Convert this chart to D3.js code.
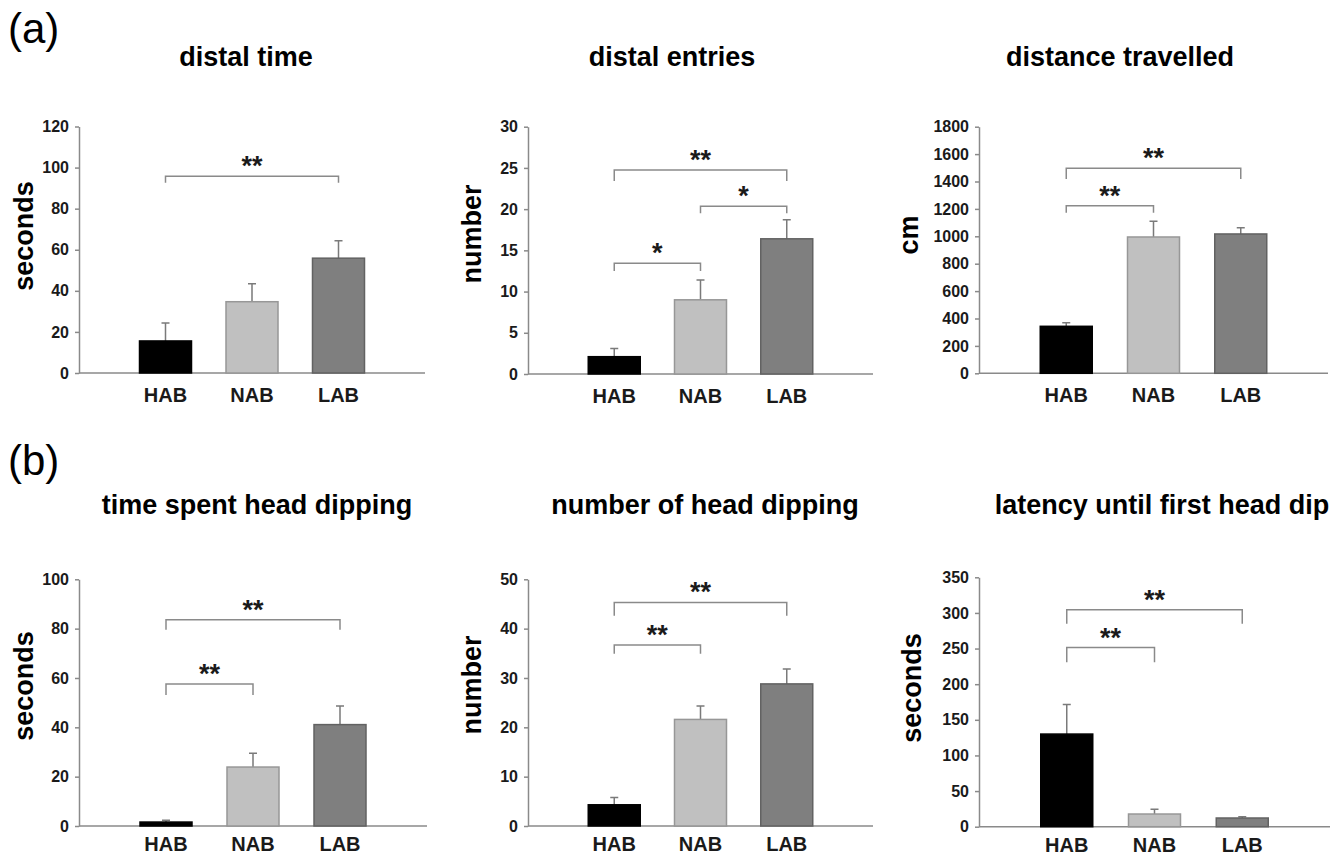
<!DOCTYPE html>
<html>
<head>
<meta charset="utf-8">
<script src="https://cdn.jsdelivr.net/npm/d3@7"></script>
<style>
body { margin: 0; background: #fff; }
svg { display: block; }
text { font-family: "Liberation Sans", Arial, sans-serif; }
</style>
</head>
<body>
<svg width="1344" height="856"></svg>
<script>
// data
var groups = ["HAB", "NAB", "LAB"];
var titles = ["distal time", "distal entries", "distance travelled",
              "time spent head dipping", "number of head dipping", "latency until first head dip"];
var yLabels = ["seconds", "number", "cm", "seconds", "number", "seconds"];
var yMax = [120, 30, 1800, 100, 50, 350];
var yStep = [20, 5, 200, 20, 10, 50];
var means = [[15.6, 34.7, 55.9], [2.1, 9.0, 16.4], [343, 995, 1017],
             [1.6, 23.9, 41.1], [4.3, 21.6, 28.8], [130, 17.8, 12.2]];
var errs = [[8.7, 8.8, 8.5], [1.0, 2.4, 2.3], [26, 114, 46],
            [0.7, 5.6, 7.5], [1.5, 2.7, 3.0], [41.6, 6.6, 1.8]];
// [from, to, bracket top, bracket end, label]
var sig = [
    [[0, 2, 95.8, 92.6, "**"]],
    [[0, 2, 24.75, 23.4, "**"], [0, 1, 13.43, 12.5, "*"], [1, 2, 20.35, 19.5, "*"]],
    [[0, 2, 1496, 1418, "**"], [0, 1, 1223, 1172, "**"]],
    [[0, 2, 83.6, 79.6, "**"], [0, 1, 57.6, 53.1, "**"]],
    [[0, 2, 45.3, 42.6, "**"], [0, 1, 36.7, 34.9, "**"]],
    [[0, 2, 304.3, 284.7, "**"], [0, 1, 251.4, 230.8, "**"]]
];

var svg = d3.select("svg");
var grey = "#8a8a8a";
var fills = {HAB: "#000000", NAB: "#c0c0c0", LAB: "#7f7f7f"};
var strokes = {HAB: "#000000", NAB: "#979797", LAB: "#626262"};

// layout of the six panels
var xRanges = [[79, 425], [528, 873], [979, 1328], [79, 427], [528, 873], [979, 1330]];
var yRanges = [[373, 126.5], [374, 126.7], [373.3, 126.7], [826, 579.3], [826, 579.3], [826.7, 577.3]];
var titleX = [246, 672, 1120, 257, 705, 1162];
var titleY = [66, 66, 66, 514, 514, 514];
var labX = [33, 481, 918, 33, 481, 921];
var labY = [236, 234, 235, 686, 685, 688];
var xlabGap = [29, 29, 29, 25, 25, 25];

svg.append("text").attr("x", 8).attr("y", 43).text("(a)")
   .style("font-size", "42px");
svg.append("text").attr("x", 8).attr("y", 475).text("(b)")
   .style("font-size", "42px");

for (var i = 0; i < 6; i++) {
    var g = svg.append("g");
    var x = d3.scalePoint().domain(groups).range(xRanges[i]).padding(1);
    var y = d3.scaleLinear().domain([0, yMax[i]]).range(yRanges[i]);
    var bw = 52;

    g.append("text")
     .attr("x", titleX[i]).attr("y", titleY[i])
     .attr("text-anchor", "middle")
     .style("font-size", "27px").style("font-weight", "bold")
     .text(titles[i]);

    g.append("text")
     .attr("transform", "translate(" + labX[i] + "," + labY[i] + ") rotate(-90)")
     .attr("text-anchor", "middle")
     .style("font-size", "27px").style("font-weight", "bold")
     .text(yLabels[i]);

    var yAxis = g.append("g")
     .attr("transform", "translate(" + xRanges[i][0] + ",0)")
     .call(d3.axisLeft(y).tickValues(d3.range(0, yMax[i] + 0.001, yStep[i]))
             .tickFormat(d3.format("d"))
             .tickSize(4).tickSizeOuter(0).tickPadding(6));
    yAxis.select(".domain").attr("stroke", grey).attr("stroke-width", 1.5);
    yAxis.selectAll(".tick line").attr("stroke", grey).attr("stroke-width", 1.5);
    yAxis.selectAll(".tick text")
     .style("font-size", "16px").style("font-weight", "bold")
     .attr("fill", "#1a1a1a")
     .style("font-family", "'Liberation Sans', Arial, sans-serif");

    // x axis line
    g.append("line")
     .attr("x1", xRanges[i][0]).attr("x2", xRanges[i][1])
     .attr("y1", y(0)).attr("y2", y(0))
     .attr("stroke", grey).attr("stroke-width", 1.5);

    var rows = groups.map(function(d, j) { return {g: d, v: means[i][j], e: errs[i][j]}; });

    // error bars (upper only)
    g.selectAll(".err").data(rows).enter().append("path")
     .attr("fill", "none").attr("stroke", "#7a7a7a").attr("stroke-width", 1.5)
     .attr("d", function(d) {
         var cx = x(d.g);
         return "M" + cx + "," + y(d.v) + "V" + y(d.v + d.e) +
                "M" + (cx - 4) + "," + y(d.v + d.e) + "H" + (cx + 4);
     });

    g.selectAll(".bar").data(rows).enter().append("rect")
     .attr("x", function(d) { return x(d.g) - bw / 2; })
     .attr("width", bw)
     .attr("y", function(d) { return y(d.v); })
     .attr("height", function(d) { return y(0) - y(d.v); })
     .attr("fill", function(d) { return fills[d.g]; })
     .attr("stroke", function(d) { return strokes[d.g]; })
     .attr("stroke-width", 1.5);

    g.selectAll(".xl").data(groups).enter().append("text")
     .attr("x", function(d) { return x(d); })
     .attr("y", y(0) + xlabGap[i])
     .attr("text-anchor", "middle")
     .style("font-size", "20px").style("font-weight", "bold")
     .attr("fill", "#1a1a1a")
     .text(function(d) { return d; });

    // significance brackets
    sig[i].forEach(function(s) {
        var xa = x(groups[s[0]]), xb = x(groups[s[1]]);
        g.append("path")
         .attr("fill", "none").attr("stroke", grey).attr("stroke-width", 1.5)
         .attr("d", "M" + xa + "," + y(s[3]) + "V" + y(s[2]) + "H" + xb + "V" + y(s[3]));
        g.append("text")
         .attr("x", (xa + xb) / 2).attr("y", y(s[2]) - 1)
         .attr("text-anchor", "middle")
         .style("font-size", "27px").style("font-weight", "bold")
         .attr("fill", "#1a1a1a")
         .text(s[4]);
    });
}
</script>
</body>
</html>
